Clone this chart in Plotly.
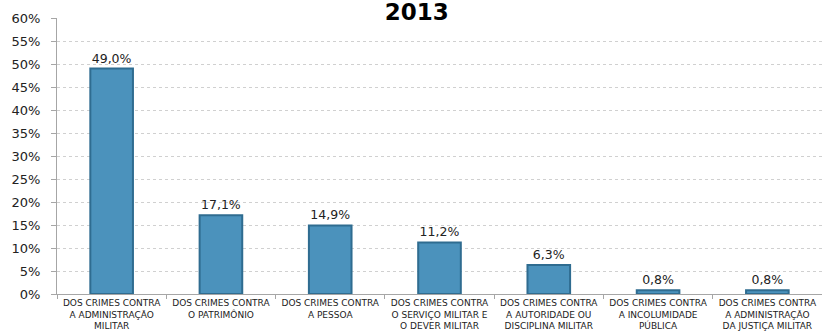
import plotly.graph_objects as go

# Share of crimes by category, 2013
categories = [
    "DOS CRIMES CONTRA<br>A ADMINISTRAÇÃO<br>MILITAR",
    "DOS CRIMES CONTRA<br>O PATRIMÔNIO",
    "DOS CRIMES CONTRA<br>A PESSOA",
    "DOS CRIMES CONTRA<br>O SERVIÇO MILITAR E<br>O DEVER MILITAR",
    "DOS CRIMES CONTRA<br>A AUTORIDADE OU<br>DISCIPLINA MILITAR",
    "DOS CRIMES CONTRA<br>A INCOLUMIDADE<br>PÚBLICA",
    "DOS CRIMES CONTRA<br>A ADMINISTRAÇÃO<br>DA JUSTIÇA MILITAR",
]
shares = [0.490, 0.171, 0.149, 0.112, 0.063, 0.008, 0.008]
y_ticks = [i * 0.05 for i in range(13)]

fig = go.Figure(
    go.Bar(
        x=categories,
        y=shares,
        width=0.39,
        marker=dict(color="#4B92BC", line=dict(color="#2F6C90", width=2)),
        texttemplate="%{y:.1%}",
        textposition="outside",
        textfont=dict(family="DejaVu Sans", size=12.5, color="#222222"),
        cliponaxis=False,
    )
)

fig.update_layout(
    width=822,
    height=336,
    margin=dict(l=57, r=0, t=18, b=42),
    paper_bgcolor="white",
    plot_bgcolor="white",
    separators=",.",
    showlegend=False,
    title=dict(
        text="<b>2013</b>",
        x=0.507,
        xref="container",
        xanchor="center",
        y=0.965,
        yref="container",
        yanchor="middle",
        font=dict(family="DejaVu Sans", size=23, color="black"),
    ),
)

fig.update_yaxes(
    range=[0, 0.6],
    tickvals=y_ticks,
    tickformat=".0%",
    showgrid=True,
    gridcolor="#d0d0d0",
    griddash="dot",
    gridwidth=1,
    showline=True,
    linecolor="#a6a6a6",
    ticks="outside",
    ticklen=5,
    tickcolor="#a6a6a6",
    ticklabelstandoff=8,
    tickfont=dict(family="DejaVu Sans", size=13, color="#222222"),
    zeroline=False,
)

fig.update_xaxes(
    showline=True,
    linecolor="#a6a6a6",
    ticks="outside",
    tickson="boundaries",
    ticklen=4,
    tickcolor="#a6a6a6",
    tickangle=0,
    tickfont=dict(family="DejaVu Sans", size=9, color="#222222"),
)

fig.write_html("out.html")
